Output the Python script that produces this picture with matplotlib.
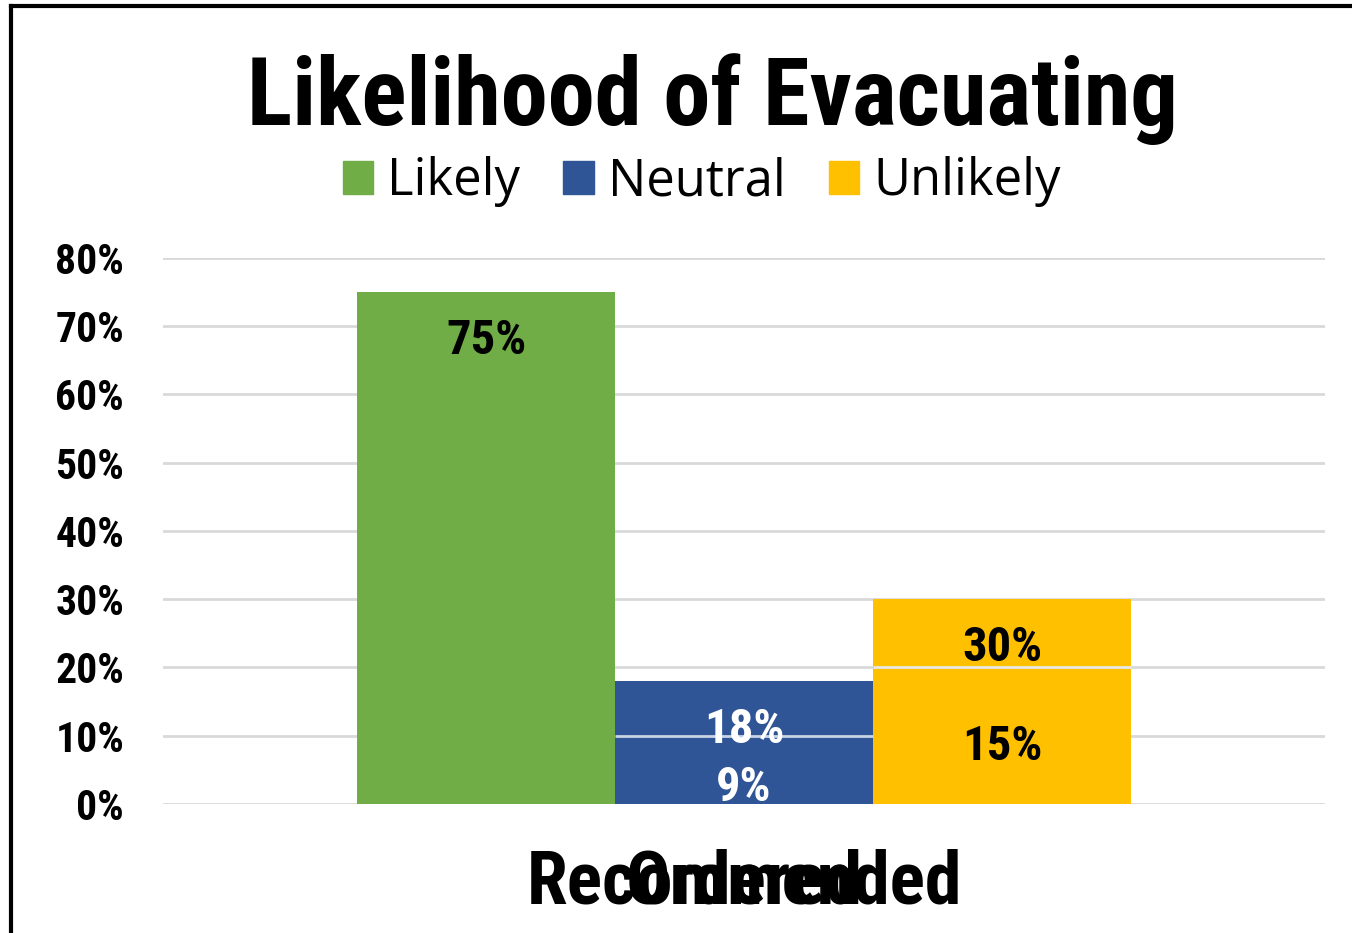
import matplotlib
matplotlib.use("Agg")
import matplotlib.pyplot as plt
from matplotlib.patches import Patch
from matplotlib.lines import Line2D
import matplotlib.transforms as mtransforms

# data
series = ["Likely", "Neutral", "Unlikely"]
recommended = [0.75, 0.18, 0.30]
ordered = [None, 0.09, 0.15]
categories = ["Recommended", "Ordered"]
colors = ["#70AD47", "#2F5597", "#FFC000"]
label_colors = ["black", "white", "black"]
yticks = [0, 0.1, 0.2, 0.3, 0.4, 0.5, 0.6, 0.7, 0.8]

bold_font = "Roboto Condensed"
plain_font = "Open Sans"

fig = plt.figure(figsize=(13.52, 9.33), dpi=100)
ax = fig.add_axes([0.1206, 0.1383, 0.8594, 0.5852])

width = 0.222
offsets = [-width, 0, width]

# recommended bars (back)
for i, s in enumerate(series):
    ax.bar(offsets[i], recommended[i], width, color=colors[i], zorder=2)
    ax.annotate("{:.0%}".format(recommended[i]), (offsets[i], recommended[i]),
                xytext=(0, -35), textcoords="offset points", ha="center", va="center",
                fontsize=35, fontweight="bold", family=bold_font,
                color=label_colors[i], zorder=6)

# ordered bars drawn on top at the same spot
for i, s in enumerate(series):
    if ordered[i] is None:
        continue
    ax.bar(offsets[i], ordered[i], width, color=colors[i], zorder=3)
    ax.annotate("{:.0%}".format(ordered[i]), (offsets[i], ordered[i]),
                xytext=(0, -33), textcoords="offset points", ha="center", va="center",
                fontsize=35, fontweight="bold", family=bold_font,
                color=label_colors[i], zorder=6)

# gridline bits showing through the overlaid bars
ax.hlines(0.1, offsets[1] - width / 2, offsets[1] + width / 2, color="#C9D3E6", lw=2, zorder=4)
ax.hlines(0.2, offsets[2] - width / 2, offsets[2] + width / 2, color="#E8E8E8", lw=2, zorder=4)

ax.set_xlim(-0.5, 0.5)
ax.set_ylim(0, 0.8)
ax.set_yticks(yticks)
ax.set_yticklabels(["{:.0%}".format(v) for v in yticks], fontsize=30,
                   fontweight="bold", family=bold_font)
ax.set_xticks([])
ax.tick_params(axis="both", length=0)
ax.tick_params(axis="y", pad=28)
ax.grid(axis="y", color="#D9D9D9", lw=2, zorder=0)
ax.set_axisbelow(True)
for sp in ax.spines.values():
    sp.set_visible(False)

# both category labels sit on the same spot, overlapping
trans = mtransforms.blended_transform_factory(ax.transData, fig.transFigure)
for c in categories:
    ax.text(0, 1 - 903 / 933, c, transform=trans, ha="center", va="baseline",
            fontsize=53, fontweight="bold", family=bold_font)

fig.text(0.527, 1 - 125 / 933, "Likelihood of Evacuating", ha="center", va="baseline",
         fontsize=68, fontweight="bold", family=bold_font)

handles = [Patch(color=c, label=s) for s, c in zip(series, colors)]
fig.legend(handles=handles, loc="center", bbox_to_anchor=(0.519, 0.805), ncol=3,
           frameon=False, prop={"family": plain_font, "size": 36.5},
           handlelength=0.6, handleheight=0.6, handletextpad=0.28,
           columnspacing=0.85)

# outer frame (only left and top edges visible)
fig.add_artist(Line2D([0.0085, 0.0085], [0, 0.9935], color="black", lw=3, transform=fig.transFigure))
fig.add_artist(Line2D([0.0085, 1.0], [0.9935, 0.9935], color="black", lw=3, transform=fig.transFigure))

fig.savefig("out.png", dpi=100)
